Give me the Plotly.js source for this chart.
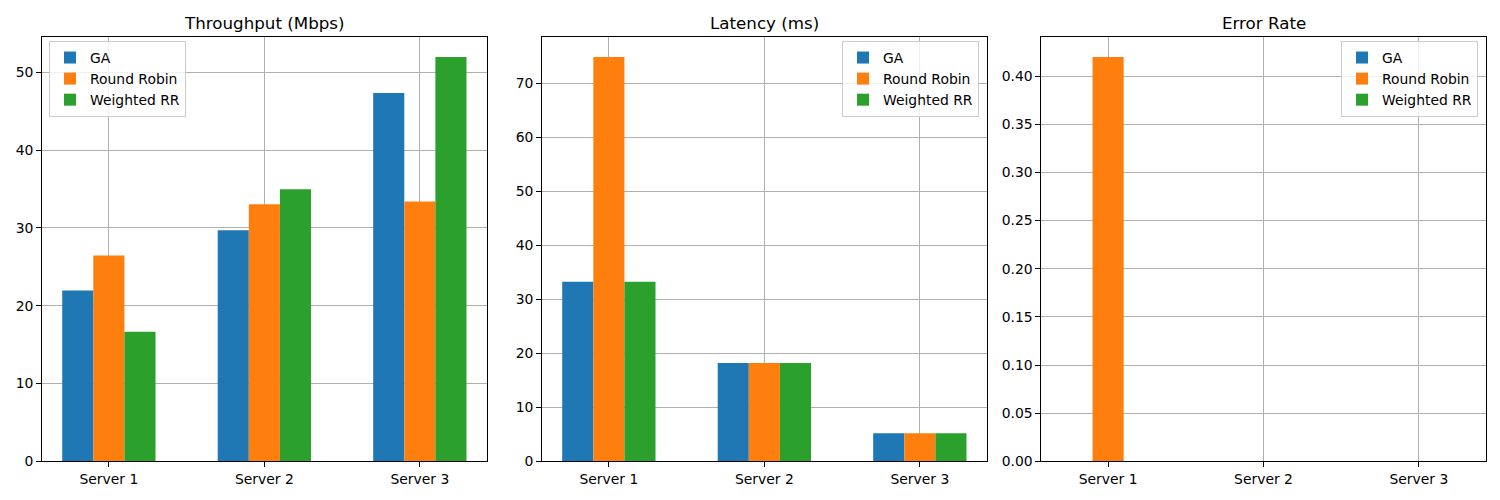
<!DOCTYPE html>
<html>
<head>
<meta charset="utf-8">
<script src="https://cdn.plot.ly/plotly-3.0.1.min.js"></script>
<style>html,body{margin:0;padding:0;background:#fff;} #chart{width:1500px;height:500px;}</style>
</head>
<body>
<div id="chart"></div>
<script>
const servers = ["Server 1", "Server 2", "Server 3"];
const seriesNames = ["GA", "Round Robin", "Weighted RR"];
const colors = ["#1f77b4", "#ff7f0e", "#2ca02c"];
const panelTitles = ["Throughput (Mbps)", "Latency (ms)", "Error Rate"];

const throughputGA = [21.95, 29.68, 47.33];
const throughputRR = [26.46, 33.03, 33.40];
const throughputWRR = [16.66, 34.96, 51.97];

const latencyGA = [33.27, 18.2, 5.2];
const latencyRR = [74.9, 18.2, 5.2];
const latencyWRR = [33.27, 18.2, 5.2];

const errorGA = [0, 0, 0];
const errorRR = [0.42, 0, 0];
const errorWRR = [0, 0, 0];

const panels = [
  [throughputGA, throughputRR, throughputWRR],
  [latencyGA, latencyRR, latencyWRR],
  [errorGA, errorRR, errorWRR]
];

const W = 1500, H = 500;
const xDomPx = [[42, 486.7], [542, 986.7], [1041.3, 1485.7]];
const yDom = [(H - 461.3) / H, (H - 36.7) / H];
const catIdx = [0, 1, 2];

const data = [];
const layout = {
  width: W, height: H,
  margin: {l: 0, r: 0, t: 0, b: 0},
  paper_bgcolor: "#ffffff",
  plot_bgcolor: "#ffffff",
  font: {family: "DejaVu Sans", size: 13.9, color: "#000000"},
  barmode: "group",
  bargap: 0.4,
  bargroupgap: 0,
  showlegend: true,
  annotations: [],
  shapes: []
};

const legendPos = [
  {x: 49 / W, xanchor: "left"},
  {x: 979 / W, xanchor: "right"},
  {x: 1478 / W, xanchor: "right"}
];

panels.forEach((series, p) => {
  const sfx = p === 0 ? "" : String(p + 1);
  const legName = p === 0 ? "legend" : "legend" + (p + 1);
  series.forEach((vals, s) => {
    data.push({
      type: "bar",
      x: catIdx,
      y: vals,
      name: seriesNames[s],
      marker: {color: colors[s], line: {width: 0}},
      xaxis: "x" + sfx,
      yaxis: "y" + sfx,
      legend: legName,
      hoverinfo: "skip"
    });
  });
  const maxVal = Math.max(...series.flat());
  const dtick = p === 2 ? 0.05 : 10;
  layout["xaxis" + sfx] = {
    domain: [xDomPx[p][0] / W, xDomPx[p][1] / W],
    anchor: "y" + sfx,
    range: [-0.43, 2.43],
    tickmode: "array",
    tickvals: catIdx,
    ticktext: servers,
    showgrid: true, gridcolor: "#b0b0b0", gridwidth: 1,
    showline: true, linecolor: "#000000", linewidth: 1, mirror: true,
    ticks: "outside", ticklen: 4.9, tickwidth: 1, tickcolor: "#000000",
    zeroline: false,
    tickfont: {family: "DejaVu Sans", size: 13.9, color: "#000000"}
  };
  layout["yaxis" + sfx] = {
    domain: yDom,
    anchor: "x" + sfx,
    range: [0, maxVal * 1.05],
    tickmode: "linear", tick0: 0, dtick: dtick,
    tickformat: p === 2 ? ".2f" : "d",
    showgrid: true, gridcolor: "#b0b0b0", gridwidth: 1,
    showline: true, linecolor: "#000000", linewidth: 1, mirror: true,
    ticks: "outside", ticklen: 4.9, tickwidth: 1, tickcolor: "#000000",
    zeroline: false,
    tickfont: {family: "DejaVu Sans", size: 13.9, color: "#000000"}
  };
  layout[legName] = {
    x: legendPos[p].x, xanchor: legendPos[p].xanchor,
    y: (H - 41) / H, yanchor: "top",
    xref: "paper", yref: "paper",
    bgcolor: "rgba(255,255,255,0.8)",
    bordercolor: "#cccccc", borderwidth: 1,
    font: {family: "DejaVu Sans", size: 13.9, color: "#000000"},
    tracegroupgap: 0,
    itemwidth: 30
  };
  layout.annotations.push({
    text: panelTitles[p],
    xref: "paper", yref: "paper",
    x: (xDomPx[p][0] + xDomPx[p][1]) / 2 / W,
    y: (H - 11) / H,
    xanchor: "center", yanchor: "top",
    showarrow: false,
    font: {family: "DejaVu Sans", size: 16.7, color: "#000000"}
  });
});

Plotly.newPlot("chart", data, layout, {displayModeBar: false, staticPlot: true});
</script>
</body>
</html>
